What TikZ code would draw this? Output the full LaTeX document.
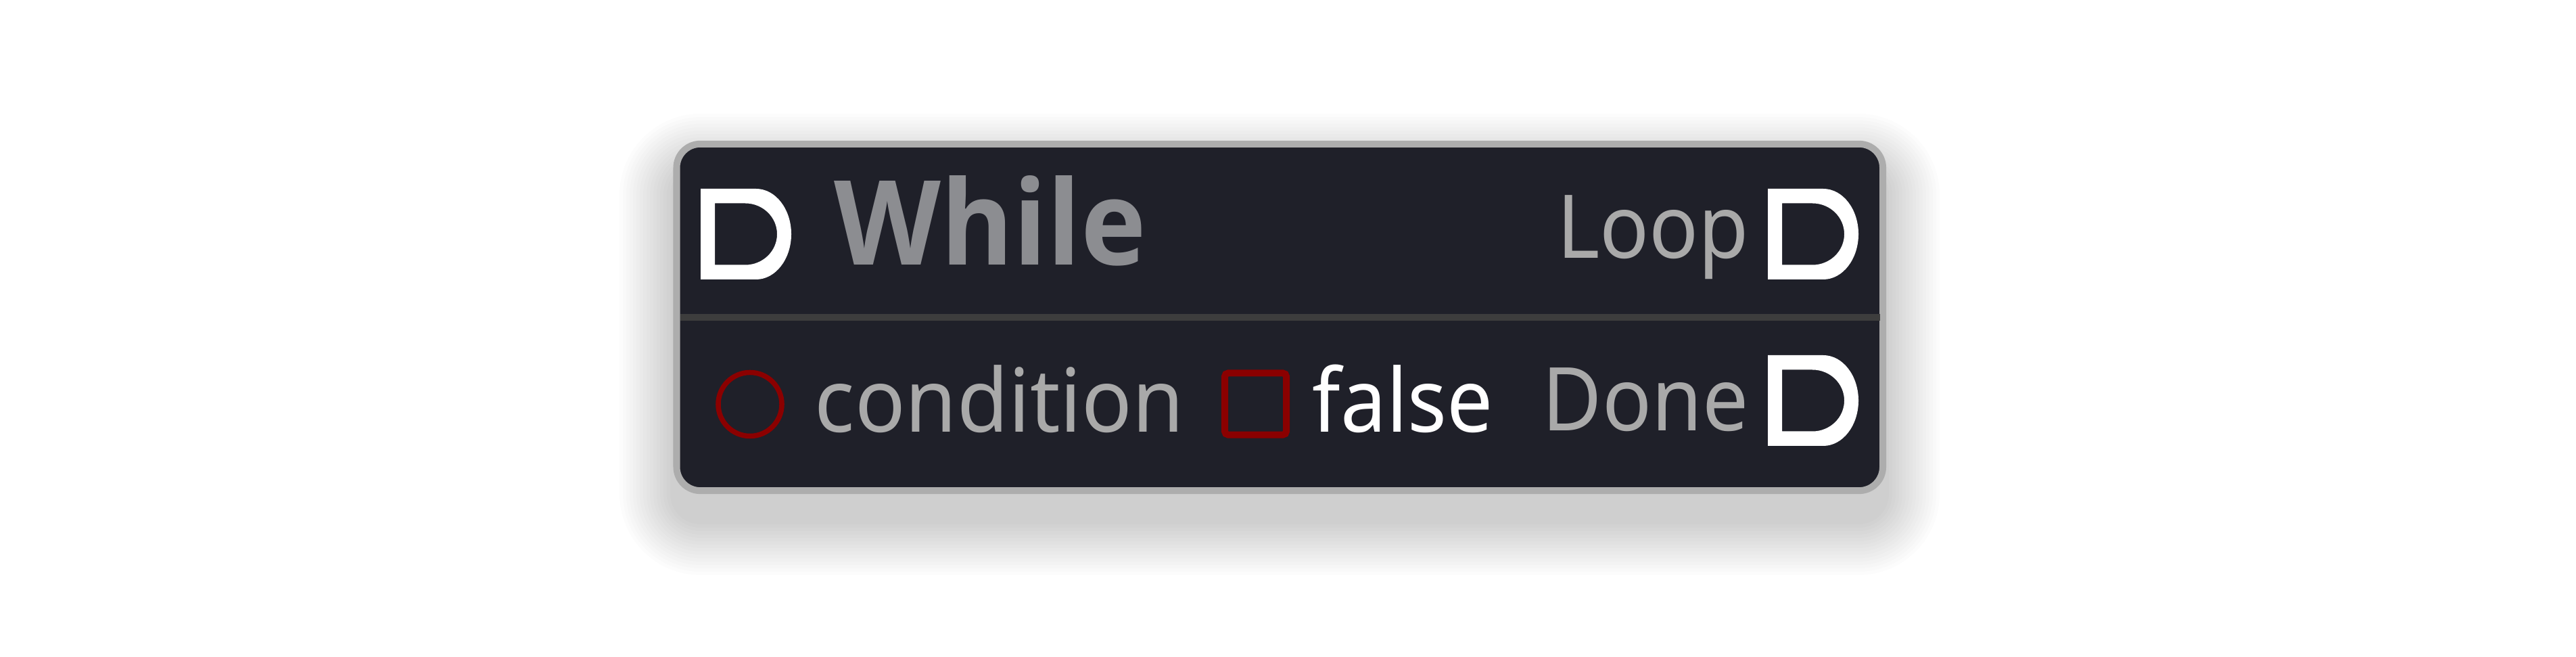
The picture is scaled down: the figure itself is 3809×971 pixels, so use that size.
\documentclass[tikz,border=0pt]{standalone}
\usepackage{graphicx}
\usepackage{fontspec}
\setmainfont{Noto Sans}
\newfontfamily\titlefont{Open Sans}
\definecolor{nodebg}{HTML}{1F2029}
\definecolor{nodeborder}{HTML}{ADADAD}
\definecolor{sepline}{HTML}{3D3D3D}
\definecolor{pintext}{HTML}{A9A9A9}
\definecolor{titletext}{HTML}{8C8D91}
\definecolor{pinred}{HTML}{8B0000}
\tikzset{
  execpin/.pic={\fill[white, even odd rule]
    (-67,-67) -- (15,-67) .. controls (43.7,-67) and (67,-37) .. (67,0)
    .. controls (67,37) and (43.7,67) .. (15,67) -- (-67,67) -- cycle
    (-46,-45.5) -- (-1,-45.5) .. controls (25,-45.5) and (46,-25.1) .. (46,0)
    .. controls (46,25.1) and (25,45.5) .. (-1,45.5) -- (-46,45.5) -- cycle;},
  lbl/.style={inner sep=0pt, font=\fontsize{37}{40}\selectfont, text=pintext},
  titlelbl/.style={inner sep=0pt, font=\titlefont\bfseries\fontsize{49.4}{52}\selectfont, text=titletext},
  datapin/.style={draw=pinred, inner sep=0pt},
}
\begin{document}
\begin{tikzpicture}[x=0.01cm,y=-0.01cm]
\useasboundingbox[fill=white] (0,0) rectangle (3809,971);
% soft shadow
\foreach \i in {1,...,16}{
  \pgfmathsetmacro\rr{0.4+0.05*\i}
  \fill[black, opacity=0.011, rounded corners=\rr cm] (996-5*\i, 248-5*\i) rectangle (2788+5*\i, 770+5*\i);
}
% body
\node[draw=nodeborder, line width=0.1cm, fill=nodebg, rounded corners=0.35cm,
      minimum width=17.825cm, minimum height=5.12cm, inner sep=0pt] (body) at (1892.25,469) {};
\node[fill=sepline, minimum width=17.73cm, minimum height=0.1cm, inner sep=0pt] (sep) at (1892.5,469) {};
% exec pins
\pic (pinin) at (1103,346) {execpin};
\pic (pinloop) at (2681,346) {execpin};
\pic (pindone) at (2681,592) {execpin};
% data pins
\node[datapin, circle, line width=0.075cm, minimum size=0.94cm] (cond) at (1109,597.5) {};
\node[datapin, rectangle, line width=0.1cm, minimum size=0.91cm, rounded corners=0.05cm] (fsq) at (1856.5,597) {};
% texts
\node[titlelbl, anchor=base west] (title) at (1233,392) {\scalebox{0.94}[1]{While}};
\node[lbl, anchor=base east] (loop) at (2587,382) {\scalebox{0.93}[1]{Loop}};
\node[lbl, anchor=base west] (condtxt) at (1204,639) {\scalebox{0.95}[1]{condition}};
\node[lbl, anchor=base west, text=white] (falsetxt) at (1940,639) {\scalebox{0.93}[1]{false}};
\node[lbl, anchor=base east] (done) at (2586,637) {\scalebox{0.93}[1]{Done}};
\end{tikzpicture}
\end{document}
